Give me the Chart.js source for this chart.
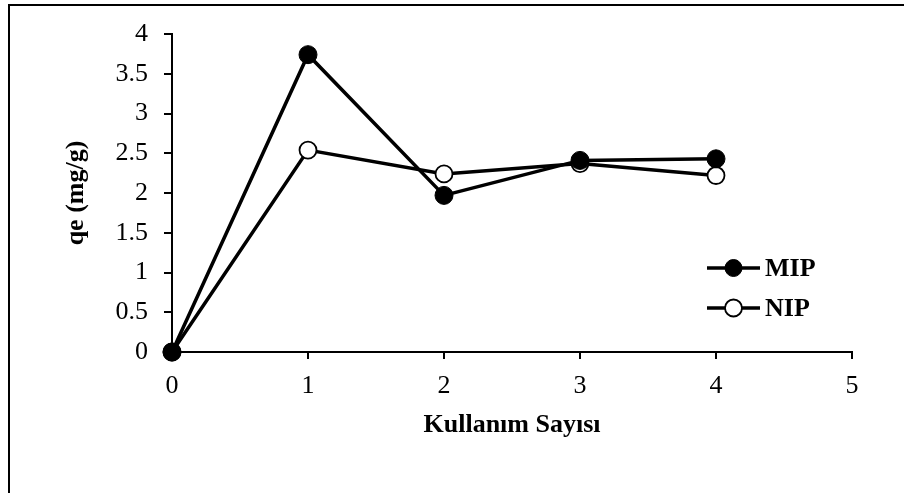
<!DOCTYPE html>
<html>
<head>
<meta charset="utf-8">
<script src="https://cdn.jsdelivr.net/npm/chart.js@4.4.1/dist/chart.umd.min.js"></script>
<style>
  html, body { margin: 0; padding: 0; background: #fff; overflow: hidden; }
  #wrap { position: relative; width: 904px; height: 493px; }
  #frame {
    position: absolute; left: 8px; top: 4px; width: 1000px; height: 1000px;
    border-left: 2.5px solid #000; border-top: 2.5px solid #000;
  }
  canvas { position: absolute; left: 0; top: 0; }
</style>
</head>
<body>
<div id="wrap">
  <div id="frame"></div>
  <canvas id="chart" width="904" height="493"></canvas>
</div>
<script>
// Data
const usesX = [0, 1, 2, 3, 4];
const mipValues = [0, 3.74, 1.97, 2.41, 2.43];
const nipValues = [0, 2.54, 2.24, 2.37, 2.22];
const seriesNames = ["MIP", "NIP"];
const xTicks = [0, 1, 2, 3, 4, 5];
const yTicks = [0, 0.5, 1, 1.5, 2, 2.5, 3, 3.5, 4];

const toPoints = (xs, ys) => xs.map((x, i) => ({ x: x, y: ys[i] }));

// draws the line+marker legend inside the plot, like the Excel one
const sideLegend = {
  id: "sideLegend",
  afterDraw(chart) {
    const ctx = chart.ctx;
    const x0 = 707, x1 = 760, rows = [268, 308];
    chart.data.datasets.forEach((ds, i) => {
      const y = rows[i];
      ctx.save();
      ctx.strokeStyle = "#000";
      ctx.lineWidth = 3.5;
      ctx.beginPath();
      ctx.moveTo(x0, y);
      ctx.lineTo(x1, y);
      ctx.stroke();
      ctx.beginPath();
      ctx.arc((x0 + x1) / 2, y, 8.5, 0, Math.PI * 2);
      ctx.fillStyle = ds.pointBackgroundColor;
      ctx.fill();
      ctx.lineWidth = ds.pointBorderWidth;
      ctx.stroke();
      ctx.fillStyle = "#000";
      ctx.font = "bold 26px 'Liberation Serif', 'Times New Roman', serif";
      ctx.textBaseline = "middle";
      ctx.fillText(ds.label, x1 + 5, y + 1);
      ctx.restore();
    });
  },
};

const tickFont = { family: "'Liberation Serif', 'Times New Roman', serif", size: 26 };
const titleFont = { family: "'Liberation Serif', 'Times New Roman', serif", size: 26, weight: "bold" };

const ctx = document.getElementById("chart").getContext("2d");
const chart = new Chart(ctx, {
  type: "scatter",
  data: {
    datasets: [
      {
        label: seriesNames[0],
        data: toPoints(usesX, mipValues),
        showLine: true,
        borderColor: "#000",
        borderWidth: 3.5,
        pointRadius: 9,
        pointBackgroundColor: "#000",
        pointBorderColor: "#000",
        pointBorderWidth: 1,
        clip: false,
      },
      {
        label: seriesNames[1],
        data: toPoints(usesX, nipValues),
        showLine: true,
        borderColor: "#000",
        borderWidth: 3.5,
        pointRadius: 8.5,
        pointBackgroundColor: "#fff",
        pointBorderColor: "#000",
        pointBorderWidth: 1.8,
        clip: false,
      },
    ],
  },
  options: {
    responsive: false,
    animation: false,
    layout: { padding: { left: 61, top: 34, right: 52, bottom: 52 } },
    plugins: { legend: { display: false }, tooltip: { enabled: false } },
    scales: {
      x: {
        type: "linear",
        min: xTicks[0],
        max: xTicks[xTicks.length - 1],
        afterBuildTicks: (s) => { s.ticks = xTicks.map((v) => ({ value: v })); },
        afterFit: (s) => { s.height = 89; },
        ticks: { font: tickFont, color: "#000", padding: 12, callback: (v) => String(v) },
        grid: { drawOnChartArea: false, drawTicks: true, tickLength: 7, color: "#000", lineWidth: 2 },
        border: { display: true, color: "#000", width: 2 },
        title: { display: true, text: "Kullanım Sayısı", font: titleFont, color: "#000", padding: 0 },
      },
      y: {
        min: yTicks[0],
        max: yTicks[yTicks.length - 1],
        afterBuildTicks: (s) => { s.ticks = yTicks.map((v) => ({ value: v })); },
        afterFit: (s) => { s.width = 111; },
        ticks: { font: tickFont, color: "#000", padding: 16, callback: (v) => String(v) },
        grid: { drawOnChartArea: false, drawTicks: true, tickLength: 8, color: "#000", lineWidth: 2 },
        border: { display: true, color: "#000", width: 2 },
        title: { display: true, text: "qe (mg/g)", font: titleFont, color: "#000", padding: 0 },
      },
    },
  },
  plugins: [sideLegend],
});
</script>
</body>
</html>
